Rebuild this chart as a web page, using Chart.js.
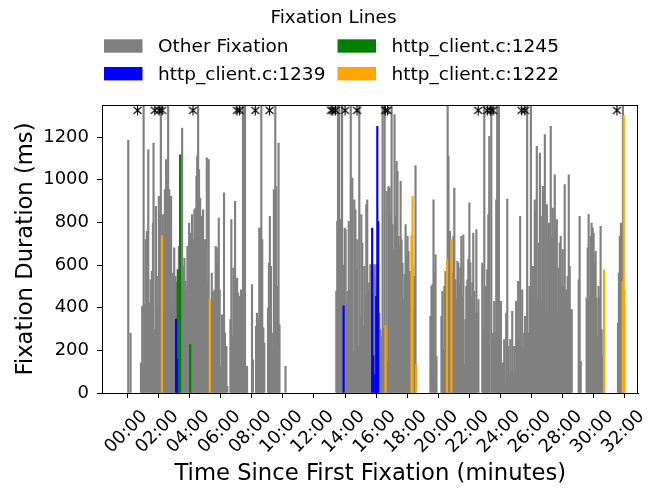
<!DOCTYPE html>
<html>
<head>
<meta charset="utf-8">
<script src="https://cdn.jsdelivr.net/npm/chart.js@4.4.0/dist/chart.umd.min.js"></script>
<style>
html, body { margin: 0; padding: 0; background: #fff; }
</style>
</head>
<body>
<canvas id="myChart" width="648" height="491"></canvas>
<script>
// fixation start time (minutes since first fixation) and duration (ms)
const otherTimes = [
    0.04, 0.19, 0.86, 0.94, 1.03, 1.07, 1.16, 1.24, 1.33, 1.39, 1.48, 1.56, 1.63, 1.67, 1.76, 1.82, 1.88, 1.95,
    2.01, 2.08, 2.14, 2.21, 2.27, 2.33, 2.40, 2.48, 2.55, 2.61, 2.68, 2.74, 2.80, 2.87, 2.93, 3.00, 3.06, 3.12,
    3.17, 3.23, 3.30, 3.38, 3.45, 3.51, 3.58, 3.66, 3.73, 3.79, 3.85, 3.92, 3.96, 4.03, 4.09, 4.15, 4.22, 4.30,
    4.37, 4.43, 4.48, 4.54, 4.60, 4.67, 4.73, 4.80, 4.86, 4.93, 4.99, 5.03, 5.10, 5.16, 5.22, 5.29, 5.35, 5.42,
    5.48, 5.55, 5.61, 5.67, 5.74, 5.80, 5.87, 5.93, 6.00, 6.08, 6.15, 6.21, 6.27, 6.36, 6.42, 6.62, 6.68, 6.75,
    6.81, 6.87, 6.92, 6.98, 7.05, 7.11, 7.17, 7.24, 7.30, 7.37, 7.43, 7.49, 7.56, 7.62, 7.69, 8.01, 8.07, 8.27,
    8.33, 8.42, 8.48, 8.54, 8.61, 8.67, 8.74, 8.80, 9.04, 9.10, 9.16, 9.23, 9.29, 9.36, 9.42, 9.51, 9.57, 9.64,
    9.72, 9.78, 10.17,
    13.44, 13.50, 13.55, 13.59, 13.63, 13.72, 13.81, 13.87, 13.91, 13.98, 14.04, 14.11, 14.17, 14.24, 14.30,
    14.37, 14.41, 14.47, 14.54, 14.60, 14.67, 14.73, 14.79, 14.86, 14.92, 14.98, 15.05, 15.11, 15.18, 15.24,
    15.31, 15.37, 15.43, 15.50, 15.56, 15.63, 15.69, 15.75, 15.82, 15.88, 15.95, 16.01, 16.21, 16.27, 16.33,
    16.42, 16.48, 16.55, 16.68, 16.74, 16.80, 16.87, 16.93, 17.00, 17.06, 17.13, 17.19, 17.25, 17.32, 17.38,
    17.45, 17.51, 17.58, 17.64, 17.70, 17.77, 17.83, 17.90, 17.96, 18.03, 18.09, 18.16, 18.22, 18.28, 18.35,
    18.41, 18.48, 18.54, 19.50, 19.57, 19.63, 19.70, 19.76, 19.83, 19.89, 20.21, 20.27, 20.34, 20.40, 20.47,
    20.51, 20.61, 20.66, 20.76, 20.85, 20.91, 20.98, 21.04, 21.11, 21.17, 21.24, 21.30, 21.36, 21.43, 21.49,
    21.56, 21.62, 21.68, 21.75, 21.81, 21.88, 21.94, 22.01, 22.07, 22.13, 22.20, 22.26, 22.33, 22.39, 22.46,
    22.52, 22.59, 22.84, 22.91, 22.97, 23.03, 23.10, 23.16, 23.23, 23.29, 23.42, 23.48, 23.55, 23.61, 23.68,
    23.74, 23.80, 23.87, 23.91, 23.98, 24.04, 24.17, 24.25, 24.32, 24.38, 24.45, 24.51, 24.58, 24.64, 24.71,
    24.77, 24.83, 24.90, 24.96, 25.02, 25.09, 25.15, 25.22, 25.28, 25.35, 25.41, 25.48, 25.54, 25.60, 25.67,
    25.73, 25.80, 25.88, 25.97, 26.03, 26.10, 26.16, 26.22, 26.29, 26.35, 26.42, 26.48, 26.55, 26.61, 26.68,
    26.74, 26.80, 26.87, 26.93, 27.00, 27.06, 27.13, 27.19, 27.25, 27.32, 27.38, 27.45, 27.51, 27.57, 27.64,
    27.70, 27.77, 27.83, 27.89, 27.96, 28.02, 28.09, 28.15, 28.22, 28.28, 28.34, 28.41, 28.47, 28.54, 28.60,
    29.05, 29.11, 29.18, 29.56, 29.63, 29.69, 29.75, 29.82, 29.88, 29.95, 30.01, 30.08, 30.14, 30.20, 30.27,
    30.33, 30.40, 30.46, 30.53, 30.61, 30.68, 31.58, 31.64, 31.70, 31.77, 31.83, 31.90
];
const otherDurations = [
    1184, 281, 140, 406, 1400, 414, 719, 758, 1140, 422, 531, 570, 797, 1172, 297, 875, 547, 391,
    922, 836, 1400, 659, 836, 375, 953, 1094, 992, 1400, 953, 430, 922, 422, 562, 680, 547, 500,
    520, 547, 688, 438, 516, 1242, 594, 633, 523, 484, 688, 406, 797, 750, 438, 836, 719, 859,
    867, 1016, 1109, 1400, 1047, 914, 828, 719, 859, 672, 719, 594, 1102, 516, 1094, 281, 422, 562,
    469, 477, 484, 688, 680, 609, 820, 484, 125, 367, 328, 938, 281, 219, 31, 344, 813, 266,
    586, 203, 898, 281, 539, 469, 344, 453, 484, 453, 1400, 547, 1400, 109, 125, 508, 156, 313,
    375, 344, 773, 773, 1400, 719, 305, 234, 398, 609, 828, 594, 281, 203, 953, 1400, 969, 500,
    1172, 320, 125,
    477, 805, 1400, 820, 1400, 813, 1400, 406, 600, 773, 766, 422, 477, 805, 484,
    1400, 820, 1008, 195, 906, 859, 578, 719, 219, 1400, 359, 836, 703, 313, 594,
    461, 883, 906, 484, 516, 602, 305, 602, 560, 602, 540, 602, 375, 297, 266,
    1400, 305, 1400, 945, 141, 969, 961, 836, 1400, 789, 672, 1305, 828, 1086, 1039,
    734, 688, 992, 719, 609, 438, 555, 789, 641, 734, 664, 570, 562, 570, 600,
    406, 547, 1066, 359, 500, 508, 906, 562, 648, 172, 359, 477, 203, 500, 570,
    422, 1400, 1109, 758, 562, 562, 734, 961, 531, 438, 617, 609, 508, 586, 734,
    453, 742, 133, 344, 500, 531, 625, 891, 609, 453, 516, 750, 477, 375, 766,
    375, 438, 609, 297, 1400, 500, 500, 578, 836, 1203, 1400, 281, 250, 430, 281,
    906, 1400, 930, 1400, 281, 430, 141, 250, 47, 375, 909, 219, 94, 250, 102,
    383, 94, 219, 86, 430, 250, 523, 250, 828, 219, 484, 211, 281, 359, 273,
    1400, 281, 500, 1400, 438, 594, 469, 906, 859, 1156, 438, 703, 1125, 828, 422,
    969, 938, 1211, 375, 883, 375, 797, 562, 1250, 734, 867, 727, 1023, 766, 813,
    375, 586, 703, 734, 500, 672, 500, 977, 484, 469, 547, 1023, 594, 391, 391,
    531, 828, 148, 445, 680, 836, 453, 734, 797, 773, 750, 609, 664, 445, 266,
    500, 445, 781, 297, 172, 273, 328, 562, 734, 797, 523, 1400
];

const line1239Times = [3.12, 3.19, 13.91, 15.75, 15.82, 15.95, 16.01, 16.08, 16.14];
const line1239Durations = [347, 159, 409, 773, 175, 86, 453, 1250, 805];

const line1245Times = [3.23, 3.38, 4.03];
const line1245Durations = [578, 1117, 227];

const line1222Times = [2.21, 5.29, 16.61, 18.28, 18.35, 18.58, 20.57, 20.85, 30.68, 31.88, 31.95, 31.99];
const line1222Durations = [737, 441, 316, 738, 922, 133, 625, 719, 578, 523, 1300, 480];

// fixations marked with an asterisk along the top
const markedTimes = [0.64, 1.75, 2.03, 2.22, 4.21, 7.04, 7.21, 8.22, 9.14, 13.10, 13.21, 13.38, 14.00,
    14.77, 16.59, 16.74, 22.58, 23.16, 23.38, 23.53, 25.37, 25.58, 31.51];
const markerLevel = 1325;

const xTickValues = [0, 2, 4, 6, 8, 10, 12, 14, 16, 18, 20, 22, 24, 26, 28, 30, 32];
const yTickValues = [0, 200, 400, 600, 800, 1000, 1200];

const legendLabels = ['Other Fixation', 'http_client.c:1245', 'http_client.c:1239', 'http_client.c:1222'];
const legendColors = ['#808080', '#008000', '#0000ff', '#ffa500'];

Chart.defaults.font.family = 'DejaVu Sans';
Chart.defaults.color = '#000';

function toPoints(xs, ys) {
    return xs.map((x, i) => ({ x: x, y: ys[i] }));
}

function fmtMinutes(v) {
    const m = Math.round(v);
    return String(m).padStart(2, '0') + ':00';
}

// asterisk marker
const star = document.createElement('canvas');
star.width = 11;
star.height = 11;
const sctx = star.getContext('2d');
sctx.strokeStyle = '#000';
sctx.lineWidth = 1.1;
sctx.beginPath();
sctx.moveTo(5.5, 0.5); sctx.lineTo(5.5, 10.5);
sctx.moveTo(1.5, 2); sctx.lineTo(9.5, 9);
sctx.moveTo(9.5, 2); sctx.lineTo(1.5, 9);
sctx.stroke();

const framePlugin = {
    id: 'frame',
    afterDraw(chart) {
        const { ctx, chartArea } = chart;
        ctx.save();
        ctx.strokeStyle = '#000';
        ctx.lineWidth = 1;
        ctx.strokeRect(Math.round(chartArea.left) + 0.5, Math.round(chartArea.top) + 0.5,
            Math.round(chartArea.right - chartArea.left) - 1, Math.round(chartArea.bottom - chartArea.top));
        ctx.restore();
    }
};

const legendPlugin = {
    id: 'fixLegend',
    afterDraw(chart) {
        const ctx = chart.ctx;
        ctx.save();
        ctx.fillStyle = '#000';
        ctx.font = '18.5px "DejaVu Sans"';
        ctx.textAlign = 'center';
        ctx.textBaseline = 'middle';
        ctx.fillText('Fixation Lines', 333.5, 18);
        ctx.textAlign = 'left';
        legendLabels.forEach((label, i) => {
            const col = i % 2;
            const row = Math.floor(i / 2);
            const bx = col === 0 ? 104 : 337.5;
            const cy = row === 0 ? 46 : 73.7;
            ctx.fillStyle = legendColors[i];
            ctx.fillRect(bx, cy - 6.7, 38.5, 13.4);
            ctx.fillStyle = '#000';
            ctx.fillText(label, bx + 54, cy + 1);
        });
        ctx.restore();
    }
};

const barOpts = { grouped: false, barThickness: 1.5, borderWidth: 0, clip: 0 };

const ctx = document.getElementById('myChart').getContext('2d');
new Chart(ctx, {
    type: 'bar',
    data: {
        datasets: [
            {
                type: 'line',
                label: 'marked',
                data: markedTimes.map(t => ({ x: t, y: markerLevel })),
                showLine: false,
                pointStyle: star,
                pointRadius: 5,
                clip: false
            },
            Object.assign({ label: 'http_client.c:1239', data: toPoints(line1239Times, line1239Durations), backgroundColor: '#0000ff' }, barOpts),
            Object.assign({ label: 'http_client.c:1245', data: toPoints(line1245Times, line1245Durations), backgroundColor: '#008000' }, barOpts),
            Object.assign({ label: 'http_client.c:1222', data: toPoints(line1222Times, line1222Durations), backgroundColor: '#ffa500' }, barOpts),
            Object.assign({ label: 'Other Fixation', data: toPoints(otherTimes, otherDurations), backgroundColor: '#808080' }, barOpts)
        ]
    },
    options: {
        responsive: false,
        animation: false,
        layout: { padding: { top: 105, right: 8, left: 0, bottom: 0 } },
        plugins: {
            legend: { display: false },
            tooltip: { enabled: false }
        },
        scales: {
            x: {
                type: 'linear',
                offset: false,
                min: -1.65,
                max: 32.9,
                afterBuildTicks: (scale) => { scale.ticks = xTickValues.map(v => ({ value: v })); },
                afterFit: (scale) => { scale.height = 98; },
                ticks: {
                    callback: (v) => fmtMinutes(v),
                    autoSkip: false,
                    minRotation: 45,
                    maxRotation: 45,
                    labelOffset: 17,
                    padding: 8,
                    font: { size: 18 }
                },
                grid: { drawOnChartArea: false, drawTicks: true, tickLength: 5, color: '#000', offset: false },
                border: { color: '#000', width: 1 },
                title: {
                    display: true,
                    text: 'Time Since First Fixation (minutes)',
                    font: { size: 22.7 },
                    padding: { top: 0, bottom: 3 }
                }
            },
            y: {
                min: 0,
                max: 1350,
                afterBuildTicks: (scale) => { scale.ticks = yTickValues.map(v => ({ value: v })); },
                afterFit: (scale) => { scale.width = 102; },
                ticks: { font: { size: 18 }, padding: 8, callback: (v) => String(v) },
                grid: { drawOnChartArea: false, drawTicks: true, tickLength: 5, color: '#000' },
                border: { color: '#000', width: 1 },
                title: {
                    display: true,
                    text: 'Fixation Duration (ms)',
                    font: { size: 22.7 },
                    padding: { top: 12, bottom: 0 }
                }
            }
        }
    },
    plugins: [framePlugin, legendPlugin]
});
</script>
</body>
</html>
